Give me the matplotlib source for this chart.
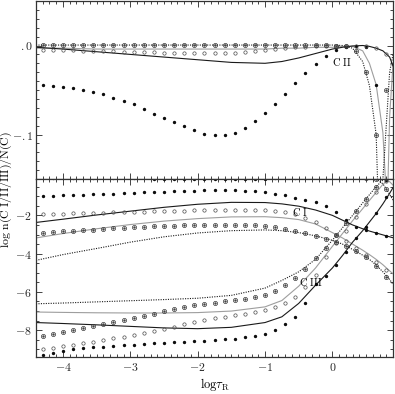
import matplotlib
matplotlib.use("Agg")
import matplotlib.pyplot as plt
from matplotlib.ticker import MultipleLocator, FuncFormatter

plt.rcParams["mathtext.fontset"] = "cm"
plt.rcParams["font.family"] = "serif"
plt.rcParams["font.serif"] = ["DejaVu Serif"]

# depth points of the marker series (log tau_R)
mx = [-4.3, -4.15, -4.0, -3.85, -3.7, -3.55, -3.4, -3.25, -3.1, -2.95, -2.8, -2.65,
      -2.5, -2.35, -2.2, -2.05, -1.9, -1.75, -1.6, -1.45, -1.3, -1.15, -1.0, -0.85,
      -0.7, -0.55, -0.4, -0.25, -0.1, 0.05, 0.2, 0.35, 0.5, 0.65, 0.8]

# filled dots
dots_c1 = [-1.00, -0.98, -0.96, -0.94, -0.92, -0.90, -0.88, -0.86, -0.84, -0.82, -0.80, -0.78,
           -0.76, -0.74, -0.72, -0.71, -0.70, -0.69, -0.69, -0.70, -0.72, -0.75, -0.79, -0.86,
           -0.95, -1.08, -1.20, -1.32, -1.50, -1.85, -2.25, -2.60, -2.78, -2.93, -3.08]
dots_c2 = [-0.044, -0.046, -0.047, -0.048, -0.050, -0.052, -0.055, -0.059, -0.062, -0.066, -0.071, -0.077,
           -0.081, -0.086, -0.090, -0.095, -0.099, -0.101, -0.101, -0.098, -0.093, -0.085, -0.076, -0.066,
           -0.054, -0.042, -0.031, -0.021, -0.012, -0.005, -0.002, -0.001, -0.002, -0.044, -0.160]
dots_c3 = [-9.32, -9.20, -9.08, -9.00, -8.94, -8.90, -8.86, -8.82, -8.78, -8.75, -8.72, -8.69,
           -8.66, -8.63, -8.60, -8.58, -8.55, -8.52, -8.48, -8.44, -8.38, -8.30, -8.20, -8.00,
           -7.70, -7.30, -6.60, -5.60, -5.15, -4.60, -3.90, -3.20, -2.60, -1.90, -1.05]

# open circles
oc_c1 = [-1.95, -1.93, -1.92, -1.90, -1.89, -1.87, -1.86, -1.85, -1.83, -1.82, -1.80, -1.79,
         -1.77, -1.76, -1.75, -1.74, -1.73, -1.72, -1.71, -1.70, -1.70, -1.71, -1.73, -1.76,
         -1.83, -1.95, -2.13, -2.37, -2.65, -3.00, -3.35, -3.70, -4.05, -4.45, -4.85]
oc_c2 = [-0.005, -0.005, -0.005, -0.005, -0.006, -0.006, -0.006, -0.006, -0.007, -0.007, -0.007, -0.007,
         -0.008, -0.008, -0.008, -0.008, -0.008, -0.008, -0.008, -0.008, -0.007, -0.006, -0.005, -0.004,
         -0.003, -0.002, -0.002, -0.001, -0.001, 0.0, 0.0, 0.0, -0.001, -0.003, -0.009]
oc_c3 = [-9.00, -8.93, -8.85, -8.77, -8.68, -8.60, -8.51, -8.42, -8.33, -8.24, -8.14, -8.04,
         -7.93, -7.82, -7.70, -7.58, -7.47, -7.38, -7.30, -7.22, -7.14, -7.06, -6.96, -6.80,
         -6.60, -6.25, -5.75, -5.10, -4.20, -3.45, -2.80, -2.08, -1.40, -0.80, -0.20]

# circles with a dot
cd_c1 = [-2.90, -2.86, -2.83, -2.80, -2.77, -2.74, -2.71, -2.68, -2.65, -2.62, -2.60, -2.57,
         -2.55, -2.53, -2.51, -2.50, -2.49, -2.48, -2.48, -2.49, -2.50, -2.52, -2.56, -2.62,
         -2.70, -2.80, -2.93, -3.07, -3.22, -3.40, -3.60, -3.88, -4.20, -4.65, -5.20]
cd_c2 = [0.0005, 0.0005, 0.0005, 0.0005, 0.0005, 0.0005, 0.0005, 0.0005, 0.0005, 0.0005, 0.0005, 0.0005,
         0.0005, 0.0005, 0.0005, 0.0005, 0.0005, 0.0005, 0.0005, 0.0005, 0.0005, 0.0005, 0.0005, 0.0005,
         0.0005, 0.0005, 0.0005, 0.0005, 0.0005, 0.0, -0.001, -0.006, -0.030, -0.100, -0.600]
cd_c3 = [-8.30, -8.20, -8.10, -8.00, -7.90, -7.80, -7.69, -7.58, -7.47, -7.36, -7.25, -7.13,
         -7.01, -6.89, -6.78, -6.69, -6.62, -6.56, -6.50, -6.44, -6.37, -6.28, -6.16, -5.95,
         -5.65, -5.25, -4.80, -4.25, -3.70, -3.05, -2.40, -1.75, -1.12, -0.50, -0.05]

# depth points of the line series
lx = [-4.4, -4.0, -3.5, -3.0, -2.5, -2.0, -1.5, -1.0, -0.75, -0.5,
      -0.25, 0.0, 0.15, 0.3, 0.45, 0.55, 0.65, 0.75, 0.85, 0.9]

solid_c1 = [-2.37, -2.20, -1.98, -1.78, -1.58, -1.42, -1.32, -1.33, -1.40, -1.52,
            -1.72, -2.00, -2.25, -2.50, -2.70, -2.82, -2.92, -3.02, -3.12, -3.17]
solid_c2 = [-0.002, -0.004, -0.007, -0.010, -0.013, -0.016, -0.019, -0.020, -0.018, -0.014,
            -0.009, -0.004, -0.002, -0.0005, 0.0, -0.001, -0.003, -0.006, -0.013, -0.023]
solid_c3 = [-7.60, -7.65, -7.72, -7.80, -7.88, -7.92, -7.85, -7.60, -7.30, -6.60,
            -5.65, -4.75, -4.10, -3.40, -2.80, -2.35, -1.90, -1.40, -0.85, -0.55]

gray_c1 = [-3.18, -2.95, -2.70, -2.48, -2.30, -2.17, -2.08, -2.07, -2.12, -2.22,
           -2.45, -2.90, -3.18, -3.50, -3.82, -4.05, -4.30, -4.58, -4.90, -5.05]
gray_c2 = [-0.003, -0.003, -0.004, -0.004, -0.004, -0.004, -0.004, -0.004, -0.003, -0.003,
           -0.002, -0.002, -0.001, -0.001, -0.006, -0.020, -0.044, -0.098, -0.240, -0.420]
gray_c3 = [-7.05, -7.07, -7.09, -7.10, -7.10, -7.08, -7.00, -6.78, -6.45, -5.70,
           -4.75, -3.62, -2.95, -2.28, -1.65, -1.22, -0.80, -0.38, -0.08, -0.02]

dot_c1 = [-4.35, -4.05, -3.73, -3.40, -3.12, -2.92, -2.80, -2.76, -2.80, -2.90,
          -3.07, -3.30, -3.50, -3.78, -4.08, -4.30, -4.60, -4.95, -5.35, -5.60]
dot_c2 = [0.0005, 0.0005, 0.0005, 0.0005, 0.0005, 0.0005, 0.0005, 0.0005, 0.0005, 0.0005,
          0.0005, 0.0005, 0.0, -0.003, -0.018, -0.045, -0.100, -0.350, -0.900, -1.200]
dot_c3 = [-6.62, -6.58, -6.52, -6.46, -6.40, -6.33, -6.18, -5.80, -5.40, -4.95,
          -4.30, -3.30, -2.65, -2.00, -1.35, -0.92, -0.50, -0.15, -0.03, -0.01]


def draw(ax):
    for y in (gray_c1, gray_c2, gray_c3):
        ax.plot(lx, y, color="0.62", lw=0.8)
    for y in (solid_c1, solid_c2, solid_c3):
        ax.plot(lx, y, color="0.1", lw=0.8)
    for y in (dot_c1, dot_c2, dot_c3):
        ax.plot(lx, y, color="0.1", lw=0.8, ls=(0, (1, 1.2)))
    for y in (dots_c1, dots_c2, dots_c3):
        ax.plot(mx, y, ls="none", marker="o", ms=1.4, color="0.05")
    for y in (oc_c1, oc_c2, oc_c3):
        ax.plot(mx, y, ls="none", marker="o", ms=2.4, mfc="none", mec="0.3", mew=0.5)
    for y in (cd_c1, cd_c2, cd_c3):
        ax.plot(mx, y, ls="none", marker="o", ms=3.0, mfc="none", mec="0.2", mew=0.5)
        ax.plot(mx, y, ls="none", marker="o", ms=0.7, color="0.25")
    ax.set_xlim(-4.4, 0.9)
    ax.xaxis.set_major_locator(MultipleLocator(1))
    ax.xaxis.set_minor_locator(MultipleLocator(0.1))
    ax.tick_params(which="both", direction="in", top=True, right=True,
                   width=0.6, labelsize=8.5, colors="0.15", pad=3)
    ax.tick_params(which="major", length=4.5)
    ax.tick_params(which="minor", length=2.2)
    for s in ax.spines.values():
        s.set_linewidth(0.9)
        s.set_color("0.2")


fig = plt.figure(figsize=(3.95, 3.94), dpi=100)
ax_top = fig.add_axes([36 / 395, 1 - 179 / 394, 357 / 395, 178 / 394])
ax_bot = fig.add_axes([36 / 395, 1 - 357 / 394, 357 / 395, 178 / 394])

draw(ax_top)
draw(ax_bot)

ax_top.set_ylim(-0.15, 0.05)
ax_top.yaxis.set_major_locator(MultipleLocator(0.1))
ax_top.yaxis.set_minor_locator(MultipleLocator(0.01))
ax_top.yaxis.set_major_formatter(FuncFormatter(
    lambda v, p: "$.0$" if abs(v) < 1e-9 else "$-.1$" if abs(v + 0.1) < 1e-9 else ""))
ax_top.tick_params(axis="y", pad=2)
ax_top.tick_params(labelbottom=False)

ax_bot.set_ylim(-9.4, -0.1)
ax_bot.yaxis.set_major_locator(MultipleLocator(2))
ax_bot.yaxis.set_minor_locator(MultipleLocator(0.5))
ax_bot.yaxis.set_major_formatter(FuncFormatter(lambda v, p: "$%d$" % round(v)))
ax_bot.xaxis.set_major_formatter(FuncFormatter(lambda v, p: "$%d$" % round(v)))
ax_bot.set_xlabel(r"$\mathrm{log}\tau_\mathrm{R}$", fontsize=9, labelpad=1)

ax_top.text(0.0, -0.019, r"$\mathrm{C\ II}$", fontsize=7.5, va="center")
ax_bot.text(-0.6, -1.85, r"$\mathrm{C\ I}$", fontsize=7.5, va="center")
ax_bot.text(-0.49, -5.5, r"$\mathrm{C\ III}$", fontsize=7.5, va="center")

fig.text(0.016, 0.52, r"$\mathrm{log\ n(C\ I/II/III)/N(C)}$", rotation=90,
         ha="center", va="center", fontsize=8.5)

fig.savefig("out.png", dpi=100)
